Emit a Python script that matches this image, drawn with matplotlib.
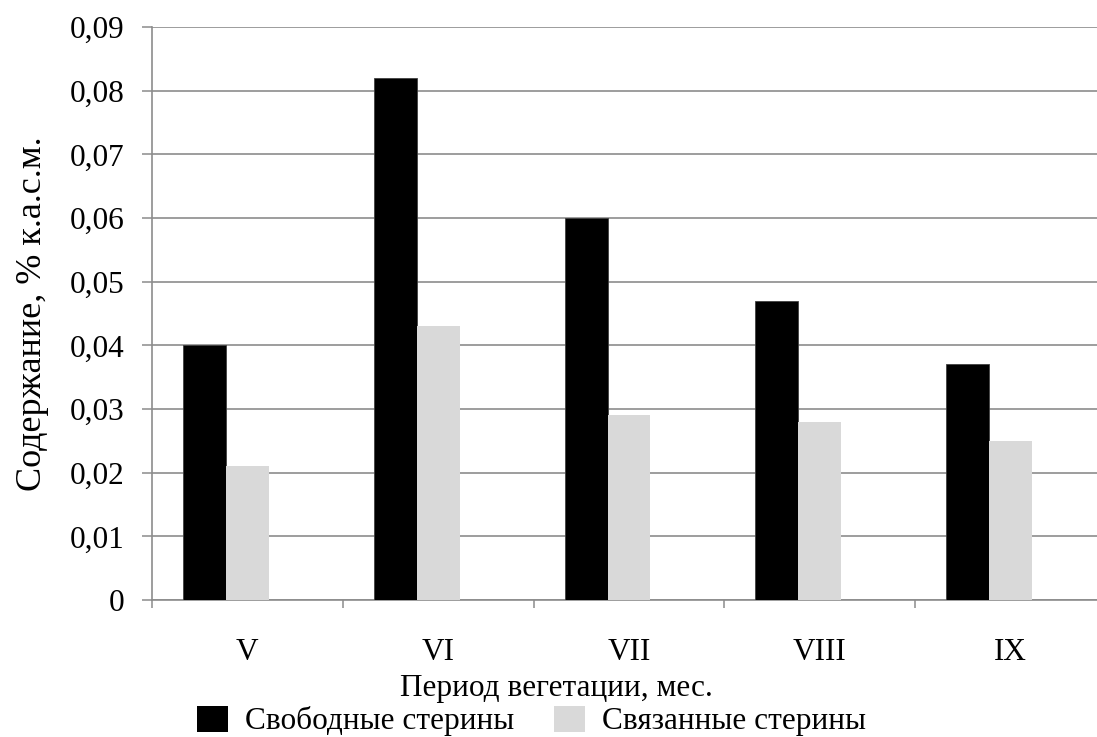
import matplotlib
matplotlib.use("Agg")
import matplotlib.pyplot as plt
import numpy as np
from matplotlib.patches import Patch

# данные
months = ["V", "VI", "VII", "VIII", "IX"]
free_sterols = [0.040, 0.082, 0.060, 0.047, 0.037]
bound_sterols = [0.021, 0.043, 0.029, 0.028, 0.025]
series_names = ["Свободные стерины", "Связанные стерины"]
y_ticks = [0, 0.01, 0.02, 0.03, 0.04, 0.05, 0.06, 0.07, 0.08, 0.09]

plt.rcParams['font.family'] = ['Liberation Serif', 'DejaVu Serif']
fs = 22.5

fig = plt.figure(figsize=(10.97, 7.37), dpi=100)
# правый край области построения обрезан, как в оригинале
ax = fig.add_axes([152 / 1097, 137 / 737, 954 / 1097, 573 / 737])

x = np.arange(len(months))
w = 0.225
grid_c = "#8c8c8c"

ax.bar(x - w, free_sterols, w, color="black", edgecolor="#404040", linewidth=0.6, zorder=3)
ax.bar(x, bound_sterols, w, color="#d9d9d9", edgecolor="none", zorder=3)

ax.set_xlim(-0.5, len(months) - 0.5)
ax.set_ylim(0, 0.09)
ax.set_yticks(y_ticks)
ax.set_yticklabels(["0" if v == 0 else ("%.2f" % v).replace(".", ",") for v in y_ticks])
ax.set_xticks(x)
ax.set_xticklabels(months)
ax.set_xticks(np.arange(len(months) + 1) - 0.5, minor=True)

ax.tick_params(axis="x", which="major", length=0, pad=27, labelsize=fs)
ax.tick_params(axis="x", which="minor", length=6, width=1.1, color=grid_c, direction="out")
ax.tick_params(axis="y", length=7, width=1.1, color=grid_c, pad=13, labelsize=fs)

ax.yaxis.grid(True, color=grid_c, linewidth=1.2, zorder=0)
ax.set_axisbelow(True)
for s in ["top", "right"]:
    ax.spines[s].set_visible(False)
for s in ["left", "bottom"]:
    ax.spines[s].set_color(grid_c)
    ax.spines[s].set_linewidth(1.2)

ax.set_ylabel("Содержание, % к.а.с.м.", fontsize=26)
ax.yaxis.set_label_coords(-0.108, 0.5)
ax.set_xlabel("Период вегетации, мес.", fontsize=fs)
ax.xaxis.set_label_coords(0.424, -0.129)

handles = [Patch(facecolor="black"), Patch(facecolor="#d9d9d9")]
fig.legend(handles, series_names, loc="center", bbox_to_anchor=(0.4845, 0.0217),
           ncol=2, frameon=False, fontsize=fs, handlelength=1.0, handleheight=0.9,
           handletextpad=0.55, columnspacing=1.25, borderpad=0)

fig.savefig("out.png", dpi=100)
